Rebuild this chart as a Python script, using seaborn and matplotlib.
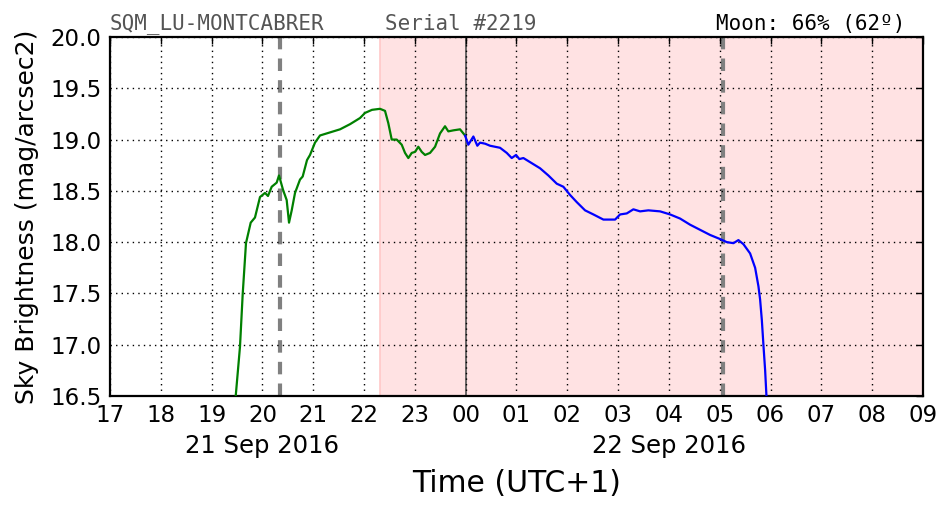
import matplotlib
matplotlib.use("Agg")
import matplotlib.pyplot as plt
import matplotlib.transforms as mtransforms
import numpy as np
import pandas as pd
import seaborn as sns

# ---- data (hours since 00:00 of 21 Sep 2016, UTC+1) ----
green_hours = [19.44, 19.559, 19.612, 19.677, 19.770, 19.854, 19.953, 20.051, 20.110, 20.183,
               20.281, 20.327, 20.406, 20.478, 20.524, 20.577, 20.642, 20.740, 20.793, 20.878,
               20.937, 21.035, 21.134, 21.331, 21.528, 21.724, 21.921, 22.020, 22.157, 22.315,
               22.413, 22.478, 22.545, 22.644, 22.742, 22.807, 22.872, 22.939, 23.004, 23.069,
               23.136, 23.201, 23.299, 23.398, 23.496, 23.594, 23.659, 23.758, 23.890, 23.988]
green_mag = [16.30, 16.98, 17.49, 17.99, 18.19, 18.24, 18.44, 18.48, 18.45, 18.54,
             18.58, 18.65, 18.51, 18.41, 18.19, 18.31, 18.48, 18.61, 18.64, 18.80,
             18.85, 18.97, 19.04, 19.07, 19.10, 19.15, 19.21, 19.26, 19.29, 19.30,
             19.28, 19.16, 19.00, 19.00, 18.95, 18.87, 18.82, 18.87, 18.88, 18.93,
             18.88, 18.85, 18.87, 18.93, 19.06, 19.13, 19.08, 19.09, 19.10, 19.04]

blue_hours = [23.988, 24.053, 24.152, 24.230, 24.283, 24.382, 24.480, 24.677, 24.809, 24.907,
              24.992, 25.057, 25.136, 25.268, 25.465, 25.628, 25.793, 25.923, 26.055, 26.187,
              26.350, 26.514, 26.711, 26.941, 27.039, 27.171, 27.301, 27.433, 27.596, 27.827,
              28.024, 28.220, 28.417, 28.614, 28.811, 29.008, 29.140, 29.270, 29.368, 29.467,
              29.598, 29.697, 29.762, 29.795, 29.829, 29.860, 29.894, 29.93]
blue_mag = [19.04, 18.95, 19.03, 18.94, 18.97, 18.96, 18.94, 18.92, 18.87, 18.82,
            18.85, 18.81, 18.82, 18.78, 18.72, 18.65, 18.57, 18.54, 18.46, 18.39,
            18.31, 18.27, 18.22, 18.22, 18.27, 18.28, 18.32, 18.30, 18.31, 18.30,
            18.27, 18.23, 18.17, 18.12, 18.07, 18.03, 18.00, 17.99, 18.02, 17.98,
            17.89, 17.75, 17.57, 17.44, 17.24, 17.00, 16.75, 16.40]

tick_hours = list(range(17, 34))
tick_labels = ["17", "18", "19", "20", "21", "22", "23", "00", "01", "02",
               "03", "04", "05", "06", "07", "08", "09"]
date_labels = ["21 Sep 2016", "22 Sep 2016"]
date_label_hours = [20, 28]

twilight_hours = [20.35, 29.07]   # dashed gray lines
night_start = 22.31
midnight = 24.0

station = "SQM_LU-MONTCABRER"
serial = "Serial #2219"
moon = "Moon: 66% (62º)"

# ---- plotting ----
sns.set_style("white")
plt.rcParams["font.family"] = ["DejaVu Sans"]
plt.rcParams["text.color"] = "black"
plt.rcParams["axes.labelcolor"] = "black"

fig = plt.figure(figsize=(9.52, 5.12), dpi=100)
ax = fig.add_axes([0.1155, 0.2266, 0.854, 0.7011])

ax.axvspan(night_start, 33, facecolor="#ffe2e3", edgecolor="#ffc8c8", linewidth=1.2, zorder=0)

df_g = pd.DataFrame({"hour": green_hours, "mag": green_mag})
df_b = pd.DataFrame({"hour": blue_hours, "mag": blue_mag})
sns.lineplot(data=df_g, x="hour", y="mag", color="green", linewidth=1.6, ax=ax, sort=False, zorder=3)
sns.lineplot(data=df_b, x="hour", y="mag", color="blue", linewidth=1.6, ax=ax, sort=False, zorder=3)

for h in twilight_hours:
    ax.axvline(h, color="gray", linestyle=(0, (3, 2.2)), linewidth=3, zorder=2)
ax.axvline(midnight, color="#505050", linewidth=1.2, zorder=2)

ax.set_xlim(17, 33)
ax.set_ylim(16.5, 20.0)
ax.set_xticks(tick_hours)
ax.set_xticklabels(tick_labels)
ax.set_yticks(np.arange(16.5, 20.01, 0.5))
ax.set_yticklabels([f"{v:.1f}" for v in np.arange(16.5, 20.01, 0.5)])
ax.grid(True, color="black", linestyle=(0, (1, 3)), linewidth=1)
ax.set_axisbelow(False)

for s in ax.spines.values():
    s.set_color("black")
    s.set_linewidth(1.6)
ax.tick_params(direction="in", length=5, width=1, top=True, right=True,
               labelsize=16.5, colors="black", pad=6)

ax.set_xlabel("Time (UTC+1)", fontsize=21.5, labelpad=30)
ax.set_ylabel("Sky Brightness (mag/arcsec2)", fontsize=18, labelpad=8)

trans = mtransforms.blended_transform_factory(ax.transData, ax.transAxes)
for h, lab in zip(date_label_hours, date_labels):
    ax.text(h, -0.105, lab, transform=trans, ha="center", va="top", fontsize=17.5)

ax.text(0.0, 1.009, station, transform=ax.transAxes, ha="left", va="bottom",
        fontsize=15, family="DejaVu Sans Mono", color="#555555", zorder=5)
ax.text(0.338, 1.009, serial, transform=ax.transAxes, ha="left", va="bottom",
        fontsize=15, family="DejaVu Sans Mono", color="#555555", zorder=5)
ax.text(0.978, 1.009, moon, transform=ax.transAxes, ha="right", va="bottom",
        fontsize=15, family="DejaVu Sans Mono", color="black", zorder=5)

fig.savefig("out.png", dpi=100)
